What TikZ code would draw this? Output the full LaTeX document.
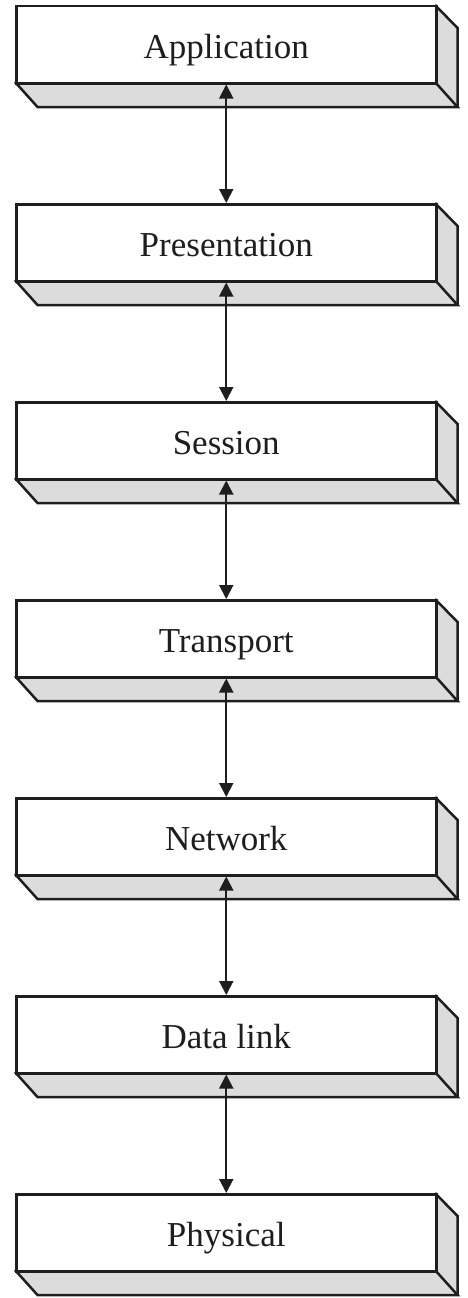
\documentclass[tikz,border=0pt]{standalone}
\usepackage{fontspec}
\setmainfont{Liberation Serif}
\usetikzlibrary{arrows.meta}
\definecolor{sidegray}{RGB}{220,220,220}
\definecolor{ink}{RGB}{30,30,30}
\tikzset{
  layerbox/.style={draw=ink, fill=white, line width=2.5pt, minimum width=420pt, minimum height=77pt,
    inner sep=0pt, anchor=north west, font=\fontsize{35}{40}\selectfont, text=ink,
    text height=27pt, text depth=0pt},
  sideface/.style={draw=ink, line width=2.5pt, line join=miter},
  link/.style={draw=ink, line width=2pt, {Triangle[width=14pt,length=14pt]}-{Triangle[width=14pt,length=14pt]}}
}
\begin{document}
\begin{tikzpicture}[x=1pt,y=-1pt]
\useasboundingbox (0,0) rectangle (467,1298);
\foreach \name/\lbl [count=\i from 0] in {app/Application,pres/Presentation,sess/Session,trans/Transport,net/Network,dl/Data link,phys/Physical}{
  \pgfmathsetmacro{\yt}{5+198*\i}
  \pgfmathsetmacro{\yb}{\yt+77}
  \fill[sidegray] (15,\yb) -- (435,\yb) -- (457.5,\yb+25) -- (37.5,\yb+25) -- cycle;
  \fill[sidegray] (435,\yt) -- (457.5,\yt+23) -- (457.5,\yb+25) -- (435,\yb) -- cycle;
  \draw[sideface] (15,\yb) -- (37.5,\yb+25) -- (457.5,\yb+25) -- (435,\yb);
  \draw[sideface] (435,\yt) -- (457.5,\yt+23) -- (457.5,\yb+25);
  \node[layerbox] (\name) at (15,\yt) {\lbl};
}
\draw[link] (app.south) -- (pres.north);
\draw[link] (pres.south) -- (sess.north);
\draw[link] (sess.south) -- (trans.north);
\draw[link] (trans.south) -- (net.north);
\draw[link] (net.south) -- (dl.north);
\draw[link] (dl.south) -- (phys.north);
\end{tikzpicture}
\end{document}
